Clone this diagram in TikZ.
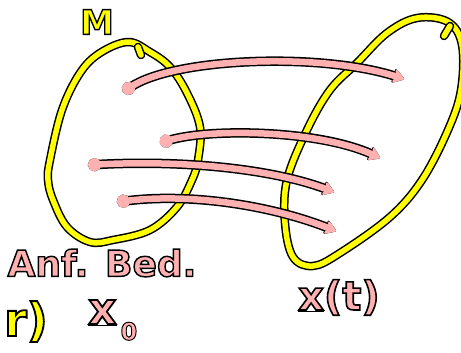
\documentclass[tikz,border=0pt]{standalone}
\usepackage{fontspec}
\newfontfamily\hand[FakeBold=4]{DejaVu Sans Bold}
\newcommand{\blackedge}{\special{pdf:literal direct 0 0 0 RG}}
\usetikzlibrary{arrows.meta}
\definecolor{pinkc}{RGB}{255,176,176}
\definecolor{yel}{RGB}{255,255,0}
\tikzset{
  yline/.style={draw=yel, line width=5.5pt, line cap=round, line join=round,
    preaction={draw=black, line width=8.5pt, line cap=round, line join=round}},
  parrow/.style={draw=pinkc, line width=6.5pt, line cap=round,
    {Circle[length=13pt]}-{Stealth[round,length=13pt,width=17pt,inset=4pt]},
    preaction={draw=black, line width=9.5pt, line cap=round,
      {Circle[length=13pt]}-{Stealth[round,length=14pt,width=18pt,inset=4pt]}}},
  ptext/.style={text=pinkc, font=\hand\fontsize{36}{38}\selectfont, inner sep=0pt},
  ytext/.style={text=yel, font=\hand\fontsize{34}{36}\selectfont, inner sep=0pt}
}
\begin{document}
\begin{tikzpicture}[x=1pt,y=-1pt]
\fill[white] (0,0) rectangle (461,353);
\clip (0,0) rectangle (461,353);
% left ellipse M
\draw[yline] plot[smooth cycle, tension=0.6] coordinates {
 (128,42) (150,52) (170,67) (187,93) (200,127) (198,160) (192,180) (177,207)
 (150,230) (113,240) (90,242) (67,227) (53,200) (48,180) (50,160) (62,110)
 (80,73) (100,53)};
\draw[yline] (138,47) -- (141,55);
% right ellipse
\draw[yline] plot[smooth cycle, tension=0.6] coordinates {
 (417,18) (448,22) (462,45) (461,90) (448,130) (422,180) (390,217) (340,253)
 (313,266) (293,257) (285,223) (287,180) (307,130) (330,90) (357,63) (387,33)};
\draw[yline] (450,26) -- (444,36);
% arrows
\coordinate (s1) at (123,92);  \coordinate (e1) at (404,79);
\coordinate (s2) at (160,143); \coordinate (e2) at (380,158);
\coordinate (s3) at (88,165);  \coordinate (e3) at (334,192);
\coordinate (s4) at (117,202); \coordinate (e4) at (336,231);
\draw[parrow] (s1) .. controls (175,58) and (320,52) .. (e1);
\draw[parrow] (s2) .. controls (210,128) and (320,130) .. (e2);
\draw[parrow] (s3) .. controls (180,160) and (270,168) .. (e3);
\draw[parrow] (s4) .. controls (190,193) and (270,205) .. (e4);
% texts
\node[ytext] (m) at (97,22) {\blackedge M};
\node[ptext] (anf) at (102,263) {\blackedge Anf. Bed.};
\node[ptext, font=\hand\fontsize{44}{46}\selectfont, anchor=base west] (x0) at (88,324) {\blackedge\underline{x}\hspace{4pt}\raisebox{-16pt}{\fontsize{24}{26}\selectfont 0}};
\node[ptext, font=\hand\fontsize{40}{42}\selectfont, anchor=base west] (xt) at (298,310) {\blackedge\underline{x}(t)};
\node[ytext, font=\hand\fontsize{46}{48}\selectfont, anchor=base east] (r) at (48,336) {\blackedge r)};
\end{tikzpicture}
\end{document}
